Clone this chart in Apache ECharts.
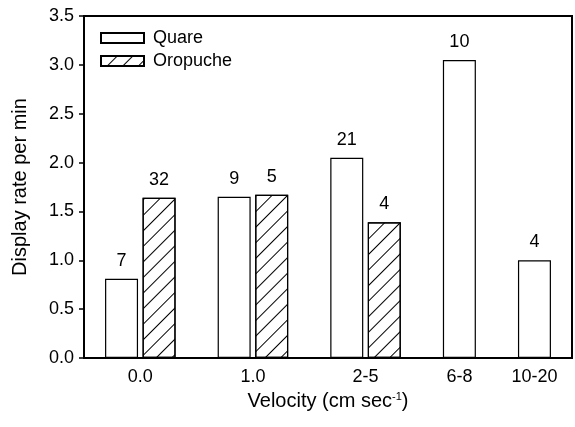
<!DOCTYPE html>
<html>
<head>
<meta charset="utf-8">
<script src="https://cdn.jsdelivr.net/npm/echarts@6/dist/echarts.min.js"></script>
<style>
  html, body { margin: 0; padding: 0; background: #fff; }
  #chart { width: 575px; height: 427px; }
</style>
</head>
<body>
<div id="chart"></div>
<script>
  // velocity classes on the x axis
  var categories = ['0.0', '1.0', '2-5', '6-8', '10-20'];
  // display rate per min
  var quareRate = [0.81, 1.65, 2.05, 3.05, 1.0];
  var oropucheRate = [1.64, 1.67, 1.39, null, null];
  // sample sizes printed above the bars
  var quareN = [7, 9, 21, 10, 4];
  var oropucheN = [32, 5, 4, null, null];
  var yTicks = [0, 0.5, 1.0, 1.5, 2.0, 2.5, 3.0, 3.5];

  // lay bars out one slot each, empty slot between groups
  var quareData = [], oropucheData = [], labelAt = {};
  var slot = 0;
  categories.forEach(function (c, i) {
    var start = slot;
    quareData.push([slot++, quareRate[i], quareN[i]]);
    if (oropucheRate[i] != null) {
      oropucheData.push([slot++, oropucheRate[i], oropucheN[i]]);
    }
    labelAt[(start + slot - 1) / 2] = c;
    slot++;
  });

  var font = 'Liberation Sans, Arial, Helvetica, sans-serif';
  var myChart = echarts.init(document.getElementById('chart'));

  var barLabel = {
    show: true,
    position: 'top',
    distance: 9,
    color: '#000',
    fontSize: 18,
    fontFamily: font,
    formatter: function (p) { return p.data[2]; }
  };

  var option = {
    animation: false,
    backgroundColor: '#fff',
    textStyle: { fontFamily: font, color: '#000' },
    grid: {
      left: 84, right: 2, top: 16, bottom: 69,
      show: true, borderColor: '#000', borderWidth: 2
    },
    legend: {
      orient: 'vertical',
      left: 95, top: 24,
      icon: 'rect',
      itemWidth: 43, itemHeight: 10, itemGap: 5,
      textStyle: { fontSize: 18, color: '#000', fontFamily: font, padding: [0, 0, 0, 4] },
      data: ['Quare', 'Oropuche']
    },
    xAxis: {
      type: 'value',
      min: -1, max: 12, interval: 0.5,
      name: 'Velocity (cm sec{sup|-1})',
      nameLocation: 'middle',
      nameGap: 33,
      nameTextStyle: {
        fontSize: 20, color: '#000', fontFamily: font,
        rich: { sup: { fontSize: 11, padding: [0, 0, 10, 0], color: '#000' } }
      },
      axisLine: { onZero: false, lineStyle: { color: '#000', width: 2 } },
      axisTick: { show: false },
      splitLine: { show: false },
      axisLabel: {
        fontSize: 18, color: '#000', margin: 10, fontFamily: font,
        showMinLabel: true, showMaxLabel: true,
        formatter: function (v) { return labelAt[v] || ''; }
      }
    },
    yAxis: {
      type: 'value',
      min: yTicks[0], max: yTicks[yTicks.length - 1], interval: 0.5,
      name: 'Display rate per min',
      nameLocation: 'middle',
      nameGap: 54,
      nameTextStyle: { fontSize: 20, color: '#000', fontFamily: font },
      axisLine: { show: true, onZero: false, lineStyle: { color: '#000', width: 2 } },
      axisTick: { show: true, length: 5, lineStyle: { color: '#000', width: 1.5 } },
      splitLine: { show: false },
      axisLabel: {
        fontSize: 18, color: '#000', margin: 10, fontFamily: font,
        formatter: function (v) { return v.toFixed(1); }
      }
    },
    series: [
      {
        name: 'Quare',
        type: 'bar',
        barWidth: 33,
        data: quareData,
        itemStyle: { color: '#fff', borderColor: '#000', borderWidth: 1.2 },
        label: barLabel
      },
      {
        name: 'Oropuche',
        type: 'bar',
        barWidth: 33,
        barGap: '-100%',
        data: oropucheData,
        itemStyle: {
          color: '#fff', borderColor: '#000', borderWidth: 1.2,
          decal: {
            symbol: 'rect', symbolSize: 1, color: '#000',
            dashArrayX: [1, 0], dashArrayY: [1, 9.5],
            rotation: -Math.PI / 4
          }
        },
        label: barLabel
      }
    ]
  };
  myChart.setOption(option);
</script>
</body>
</html>
